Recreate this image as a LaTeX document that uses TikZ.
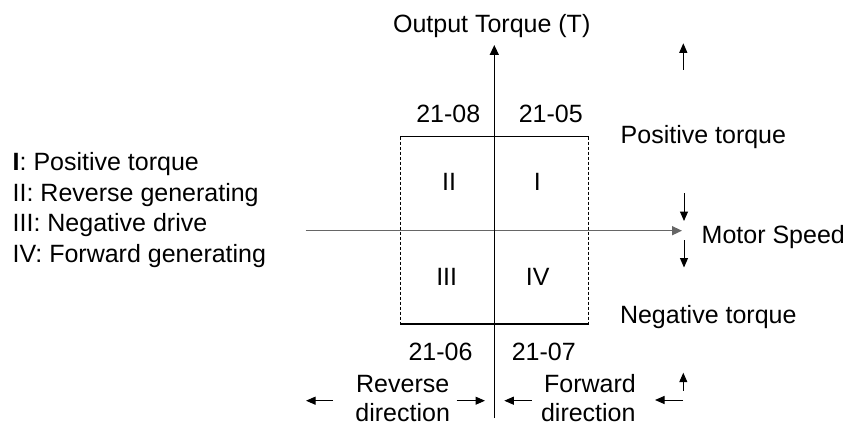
\documentclass[tikz,border=0pt]{standalone}
\usepackage{fontspec}
\setmainfont{Liberation Sans}
\usetikzlibrary{arrows.meta}
\begin{document}
\begin{tikzpicture}[x=1pt,y=-1pt,
  every node/.style={inner sep=0pt,outer sep=0pt,font=\fontsize{25}{30.3}\selectfont},
  lbl/.style={anchor=base},
  lbll/.style={anchor=base west},
  axis/.style={line width=1.3pt,-{Triangle[length=10pt,width=9pt]}},
  hax/.style={axis,line width=1.5pt,draw=black!60},
  small/.style={line width=1pt,-{Triangle[length=9.5pt,width=8pt]}},
  boxsolid/.style={line width=1.1pt},
  boxdash/.style={line width=0.8pt,dash pattern=on 3pt off 2pt}]
\useasboundingbox (0,0) rectangle (846,428);
% coordinates
\coordinate (vb) at (494.3,418);
\coordinate (vt) at (494.3,45);
\coordinate (hl) at (305.7,230.7);
\coordinate (hr) at (682,230.7);
\coordinate (tl) at (400,136.7);
\coordinate (tr) at (588.7,136.7);
\coordinate (bl) at (400,324);
\coordinate (br) at (588.7,324);
% box
\draw[boxsolid] (tl) -- (tr);
\draw[boxsolid] (bl) -- (br);
\draw[boxdash] (tl) -- (bl);
\draw[boxdash] (tr) -- (br);
% axes
\draw[hax] (hl) -- (hr);
\draw[axis] (vb) -- (vt);
% small arrows
\coordinate (ua1) at (683.3,70);  \coordinate (ua2) at (683.3,43.3);
\coordinate (d1a) at (684,193);   \coordinate (d1b) at (684,221);
\coordinate (d2a) at (684,240);   \coordinate (d2b) at (684,267.5);
\coordinate (l1a) at (333,400.7); \coordinate (l1b) at (306,400.7);
\coordinate (r1a) at (456.7,400.7); \coordinate (r1b) at (485,400.7);
\coordinate (l2a) at (531.7,400.7); \coordinate (l2b) at (504.3,400.7);
\coordinate (l3a) at (682.7,400); \coordinate (l3b) at (655,400);
\coordinate (u2a) at (683.3,390.5); \coordinate (u2b) at (683.3,372.7);
\draw[small] (ua1) -- (ua2);
\draw[small] (d1a) -- (d1b);
\draw[small] (d2a) -- (d2b);
\draw[small] (l1a) -- (l1b);
\draw[small] (r1a) -- (r1b);
\draw[small] (l2a) -- (l2b);
\draw[small] (l3a) -- (l3b);
\draw[small] (u2a) -- (u2b);
% texts
\node[lbl] (title) at (491.7,32.3) {Output Torque (T)};
\node[lbl] (c08) at (448.3,122.3) {21-08};
\node[lbl] (c05) at (550.8,122.3) {21-05};
\node[lbl] (c06) at (440.5,360) {21-06};
\node[lbl] (c07) at (543.8,360) {21-07};
\node[lbl] (q2) at (449,190) {II};
\node[lbl] (q1) at (537.3,190) {I};
\node[lbl] (q3) at (446.7,285) {III};
\node[lbl] (q4) at (537.7,285) {IV};
\node[lbll] (pt) at (620.7,143.3) {Positive torque};
\node[lbll] (nt) at (620,323.3) {Negative torque};
\node[lbll] (ms) at (701.7,243.3) {Motor Speed};
\node[lbl] (rev1) at (402.7,392.7) {Reverse};
\node[lbl] (rev2) at (402.7,421) {direction};
\node[lbl] (fwd1) at (590,392.7) {Forward};
\node[lbl] (fwd2) at (588.3,421) {direction};
\node[lbll] (lg1) at (12.7,170.7) {\textbf{I}: Positive torque};
\node[lbll] (lg2) at (12.7,201.3) {II: Reverse generating};
\node[lbll] (lg3) at (12.7,231.7) {III: Negative drive};
\node[lbll] (lg4) at (12.7,262) {IV: Forward generating};
\end{tikzpicture}
\end{document}
